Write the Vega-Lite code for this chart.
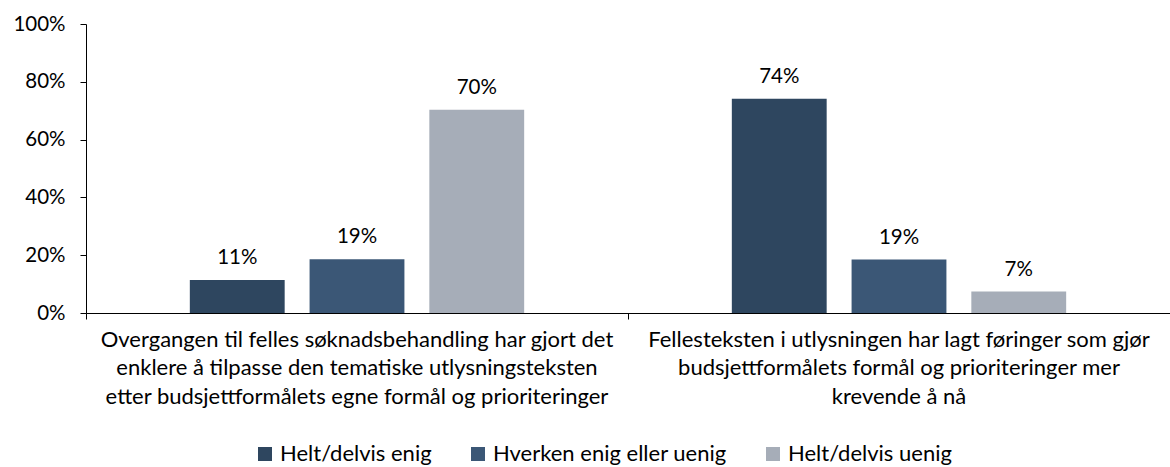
{
  "$schema": "https://vega.github.io/schema/vega-lite/v6.json",
  "width": 1084,
  "height": 289,
  "autosize": "none",
  "padding": {"left": 86, "top": 24, "right": 0, "bottom": 154},
  "background": "white",
  "config": {
    "view": {"stroke": null},
    "font": "Lato",
    "axis": {"labelFont": "Lato", "labelColor": "#000000", "domainColor": "#000000", "tickColor": "#000000", "grid": false}
  },
  "data": {
    "values": [
      {"kategori": "Overgangen til felles søknadsbehandling har gjort det|enklere å tilpasse den tematiske utlysningsteksten|etter budsjettformålets egne formål og prioriteringer", "svar": "Helt/delvis enig", "andel": 0.114},
      {"kategori": "Overgangen til felles søknadsbehandling har gjort det|enklere å tilpasse den tematiske utlysningsteksten|etter budsjettformålets egne formål og prioriteringer", "svar": "Hverken enig eller uenig", "andel": 0.186},
      {"kategori": "Overgangen til felles søknadsbehandling har gjort det|enklere å tilpasse den tematiske utlysningsteksten|etter budsjettformålets egne formål og prioriteringer", "svar": "Helt/delvis uenig", "andel": 0.703},
      {"kategori": "Fellesteksten i utlysningen har lagt føringer som gjør|budsjettformålets formål og prioriteringer mer|krevende å nå", "svar": "Helt/delvis enig", "andel": 0.741},
      {"kategori": "Fellesteksten i utlysningen har lagt føringer som gjør|budsjettformålets formål og prioriteringer mer|krevende å nå", "svar": "Hverken enig eller uenig", "andel": 0.185},
      {"kategori": "Fellesteksten i utlysningen har lagt føringer som gjør|budsjettformålets formål og prioriteringer mer|krevende å nå", "svar": "Helt/delvis uenig", "andel": 0.074}
    ]
  },
  "encoding": {
    "x": {
      "field": "kategori", "type": "nominal", "sort": null, "title": null,
      "scale": {"paddingInner": 0, "paddingOuter": 0},
      "axis": {"labelAngle": 0, "labelExpr": "split(datum.value, '|')", "labelFontSize": 22, "labelLineHeight": 28.5, "bandPosition": 0, "tickSize": 6, "labelPadding": 10, "labelLimit": 0}
    },
    "xOffset": {"field": "svar", "type": "nominal", "sort": ["Helt/delvis enig", "Hverken enig eller uenig", "Helt/delvis uenig"], "scale": {"paddingInner": 0.208, "paddingOuter": 0.867}},
    "y": {
      "field": "andel", "type": "quantitative", "title": null,
      "scale": {"domain": [0, 1], "nice": false},
      "axis": {"format": ".0%", "values": [0, 0.2, 0.4, 0.6, 0.8, 1], "labelFontSize": 20.5, "tickSize": 6, "labelPadding": 15}
    }
  },
  "layer": [
    {
      "mark": {"type": "bar"},
      "encoding": {
        "color": {
          "field": "svar", "type": "nominal", "sort": ["Helt/delvis enig", "Hverken enig eller uenig", "Helt/delvis uenig"],
          "scale": {"domain": ["Helt/delvis enig", "Hverken enig eller uenig", "Helt/delvis uenig"], "range": ["#2E465F", "#3B5776", "#A6ADB8"]},
          "legend": {"title": null, "orient": "none", "direction": "horizontal", "columns": 3, "gridAlign": "each", "legendX": 168, "legendY": 419, "symbolType": "square", "symbolSize": 196, "symbolStrokeWidth": 0, "labelFontSize": 22, "labelFont": "Lato", "labelColor": "#000000", "labelLimit": 400, "columnPadding": 35, "labelOffset": 4}
        }
      }
    },
    {
      "mark": {"type": "text", "baseline": "alphabetic", "dy": -16, "fontSize": 20.5, "font": "Lato", "color": "#000000"},
      "encoding": {"text": {"field": "andel", "type": "quantitative", "format": ".0%"}}
    }
  ]
}
